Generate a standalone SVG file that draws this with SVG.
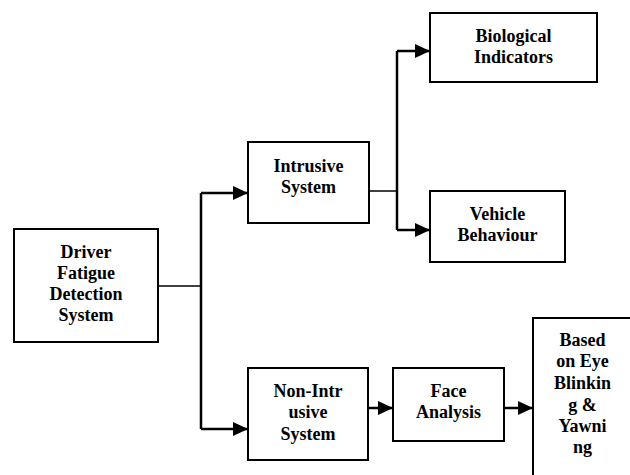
<svg xmlns="http://www.w3.org/2000/svg" width="630" height="475" viewBox="0 0 630 475">
<defs>
<style>
.box{fill:#fff;stroke:#000;stroke-width:2}
.t{font-family:"Liberation Serif","Times New Roman",serif;font-weight:bold;font-size:18px;text-anchor:middle;fill:#000}
.c{fill:none;stroke:#000;stroke-width:2.5}
.thin{fill:none;stroke:#000;stroke-width:1.5}
</style>
<marker id="ah" markerUnits="userSpaceOnUse" markerWidth="16" markerHeight="14" refX="15" refY="7" orient="auto">
<path d="M0,0 L15,7 L0,14 Z" fill="#000"/>
</marker>
</defs>
<rect width="630" height="475" fill="#fff"/>
<g id="connectors">
<path class="thin" d="M158,286 H201"/>
<path class="c" d="M201,193 V429"/>
<path class="c" d="M201,193 H248" marker-end="url(#ah)"/>
<path class="c" d="M201,429 H248" marker-end="url(#ah)"/>
<path class="thin" d="M369,191 H397"/>
<path class="c" d="M397,51 V230"/>
<path class="c" d="M397,51 H430" marker-end="url(#ah)"/>
<path class="c" d="M397,230 H430" marker-end="url(#ah)"/>
<path class="c" d="M368,408 H393" marker-end="url(#ah)"/>
<path class="c" d="M504,408 H533" marker-end="url(#ah)"/>
</g>
<g id="driver">
<rect class="box" x="14" y="229" width="144" height="113"/>
<text class="t" x="86" y="258">Driver</text>
<text class="t" x="86" y="279">Fatigue</text>
<text class="t" x="86" y="300">Detection</text>
<text class="t" x="86" y="321">System</text>
</g>
<g id="intrusive">
<rect class="box" x="248" y="142" width="121" height="81"/>
<text class="t" x="308.5" y="172">Intrusive</text>
<text class="t" x="308.5" y="193">System</text>
</g>
<g id="biological">
<rect class="box" x="430" y="13" width="167" height="69"/>
<text class="t" x="513.5" y="42">Biological</text>
<text class="t" x="513.5" y="63">Indicators</text>
</g>
<g id="vehicle">
<rect class="box" x="430" y="191" width="135" height="71"/>
<text class="t" x="497.5" y="220">Vehicle</text>
<text class="t" x="497.5" y="241">Behaviour</text>
</g>
<g id="nonintrusive">
<rect class="box" x="248" y="368" width="120" height="92"/>
<text class="t" x="308" y="397">Non-Intr</text>
<text class="t" x="308" y="418">usive</text>
<text class="t" x="308" y="440">System</text>
</g>
<g id="face">
<rect class="box" x="393" y="368" width="111" height="73"/>
<text class="t" x="448.5" y="397">Face</text>
<text class="t" x="448.5" y="418">Analysis</text>
</g>
<g id="based">
<rect class="box" x="533" y="318" width="110" height="170"/>
<text class="t" x="582.5" y="346">Based</text>
<text class="t" x="582.5" y="367">on Eye</text>
<text class="t" x="582.5" y="389">Blinkin</text>
<text class="t" x="582.5" y="411">g &amp;</text>
<text class="t" x="582.5" y="432">Yawni</text>
<text class="t" x="582.5" y="453">ng</text>
</g>
</svg>
